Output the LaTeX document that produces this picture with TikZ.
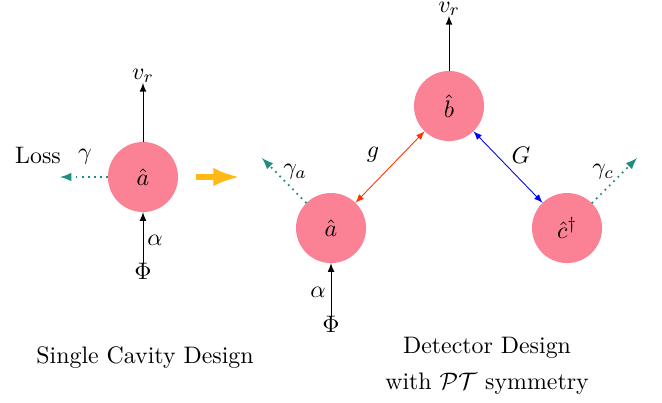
\documentclass[tikz,border=0pt,11pt]{standalone}
\usetikzlibrary{arrows.meta}
\definecolor{cavpink}{RGB}{250,130,148}
\definecolor{lossteal}{RGB}{32,140,130}
\definecolor{bigorange}{RGB}{255,185,20}
\definecolor{gred}{RGB}{255,50,0}
\begin{document}
\begin{tikzpicture}
\tikzset{ >=latex, inner sep=0pt, outer sep=0pt,
  cavity/.style={fill=cavpink, circle, minimum size=1.13cm},
  lossarrow/.style={->, dotted, thick, lossteal},
}
\useasboundingbox (0,0) rectangle (10.677,6.484);

%\draw [lightgray, dashed](0,0) grid (10,6);

% single cavity
\node [cavity] (A1) at (2.306,3.629) {$\hat{a}$};
\node (VR1)  at (2.306,5.26) {$v_r$};
\node (PHI1) at (2.306,2.10) {$\Phi$};
\node (LOSS) at (0.613,3.984) {Loss};
\coordinate (L1) at (0.968,3.629);

\draw [->] (A1)   -- (VR1);
\draw [->] (PHI1) -- (A1);
\draw [lossarrow] (A1) -- (L1);

\node at (1.371,3.952) {$\gamma$};
\node at (2.50,2.613) {$\alpha$};

% big arrow
\coordinate (S) at (3.161,3.629);
\coordinate (E) at (3.871,3.629);
\draw [-{Latex[length=4.3mm,width=3mm]}, line width=2.6pt, bigorange] (S) -- (E);

% detector
\node [cavity] (A2) at (5.339,2.806) {$\hat{a}$};
\node [cavity] (B)  at (7.242,4.774) {$\hat{b}$};
\node [cavity] (C)  at (9.145,2.806) {$\hat{c}^{\dagger}$};
\node (VR2)  at (7.242,6.34) {$v_r$};
\node (PHI2) at (5.339,1.26) {$\Phi$};
\coordinate (GA) at (4.226,3.935);
\coordinate (GC) at (10.274,3.935);

\draw [->] (B)    -- (VR2);
\draw [->] (PHI2) -- (A2);
\draw [<->, gred]  (A2) -- (B);
\draw [<->, blue] (B)  -- (C);
\draw [lossarrow] (A2) -- (GA);
\draw [lossarrow] (C)  -- (GC);

\node at (6.016,3.984) {$g$};
\node at (8.403,3.984) {$G$};
\node at (4.758,3.710) {$\gamma_a$};
\node at (9.726,3.710) {$\gamma_c$};
\node at (5.129,1.774) {$\alpha$};

\node at (2.339,0.710) {Single Cavity Design};
\node at (7.855,0.871) {Detector Design};
\node at (7.855,0.290) {with $\mathcal{PT}$ symmetry};

\end{tikzpicture}
\end{document}
